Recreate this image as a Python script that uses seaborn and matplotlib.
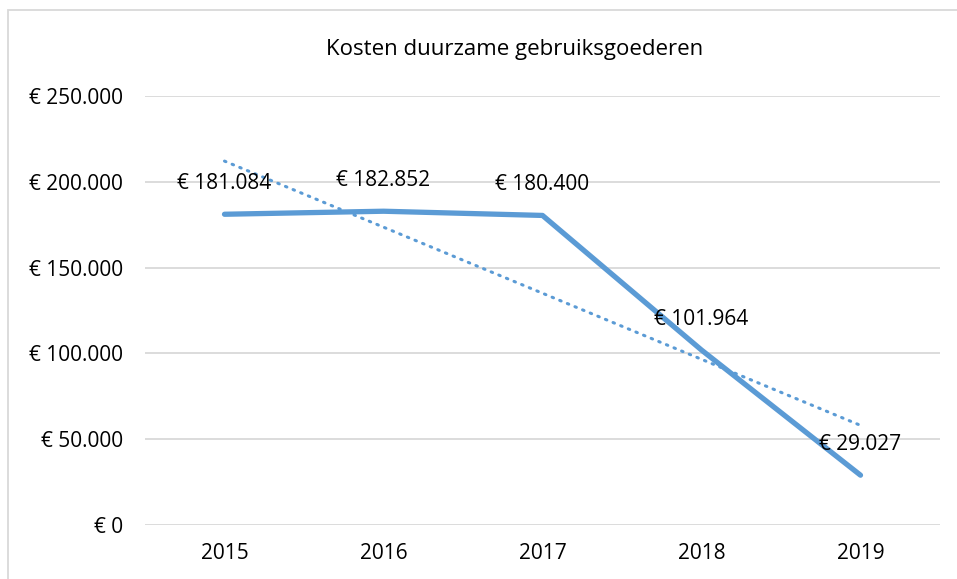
import numpy as np
import pandas as pd
import matplotlib
matplotlib.use("Agg")
import matplotlib.pyplot as plt
import seaborn as sns
from matplotlib.patches import Rectangle
from matplotlib.ticker import FuncFormatter

# Data
years = ["2015", "2016", "2017", "2018", "2019"]
kosten = [181084, 182852, 180400, 101964, 29027]
title = "Kosten duurzame gebruiksgoederen"

sns.set_style("white")
plt.rcParams['font.family'] = ['Open Sans', 'DejaVu Sans']

BLUE = "#5B9BD5"
GRID = "#D9D9D9"
FS = 15


def euro(v, pos=None):
    return "€ " + f"{int(round(v)):,}".replace(",", ".")


df = pd.DataFrame({"jaar": years, "kosten": kosten})
df["pos"] = np.arange(len(df))

fig = plt.figure(figsize=(9.57, 5.79), dpi=100)
ax = fig.add_axes([145 / 957, 1 - 525 / 579, 795 / 957, 429 / 579])

# chart border (top and left visible, rest is cut off)
fig.patches.append(Rectangle((8 / 957, -0.1), 1.2, 1 - 10 / 579 + 0.1,
                             transform=fig.transFigure, fill=False,
                             edgecolor=GRID, linewidth=1.3, zorder=0))

sns.lineplot(data=df, x="pos", y="kosten", ax=ax, color=BLUE,
             linewidth=3.8, solid_capstyle="round", zorder=3)

# linear trendline
coef = np.polyfit(df["pos"], df["kosten"], 1)
trend = np.polyval(coef, df["pos"])
ax.plot(df["pos"], trend, color=BLUE, linewidth=2.2,
        linestyle=(0, (0.5, 2.2)), dash_capstyle="round", zorder=2)

for x, y in zip(df["pos"], df["kosten"]):
    ax.annotate(euro(y), (x, y), xytext=(0, 31), textcoords="offset pixels",
                ha="center", va="center", fontsize=FS, color="black", zorder=4)

ax.set_xlim(-0.5, len(years) - 0.5)
ax.set_ylim(0, 250000)
ax.set_yticks(np.arange(0, 250001, 50000))
ax.yaxis.set_major_formatter(FuncFormatter(euro))
ax.set_xticks(df["pos"])
ax.set_xticklabels(years)
ax.grid(axis="y", color=GRID, linewidth=1.3)
ax.set_axisbelow(True)
for s in ax.spines.values():
    s.set_visible(False)
ax.tick_params(axis="both", length=0, labelsize=FS, colors="black")
ax.tick_params(axis="y", pad=16)
ax.tick_params(axis="x", pad=13)
ax.set_xlabel("")
ax.set_ylabel("")

fig.text(515 / 957, 1 - 50 / 579, title, ha="center", va="center",
         fontsize=16, color="black")

fig.savefig("out.png", dpi=100)
